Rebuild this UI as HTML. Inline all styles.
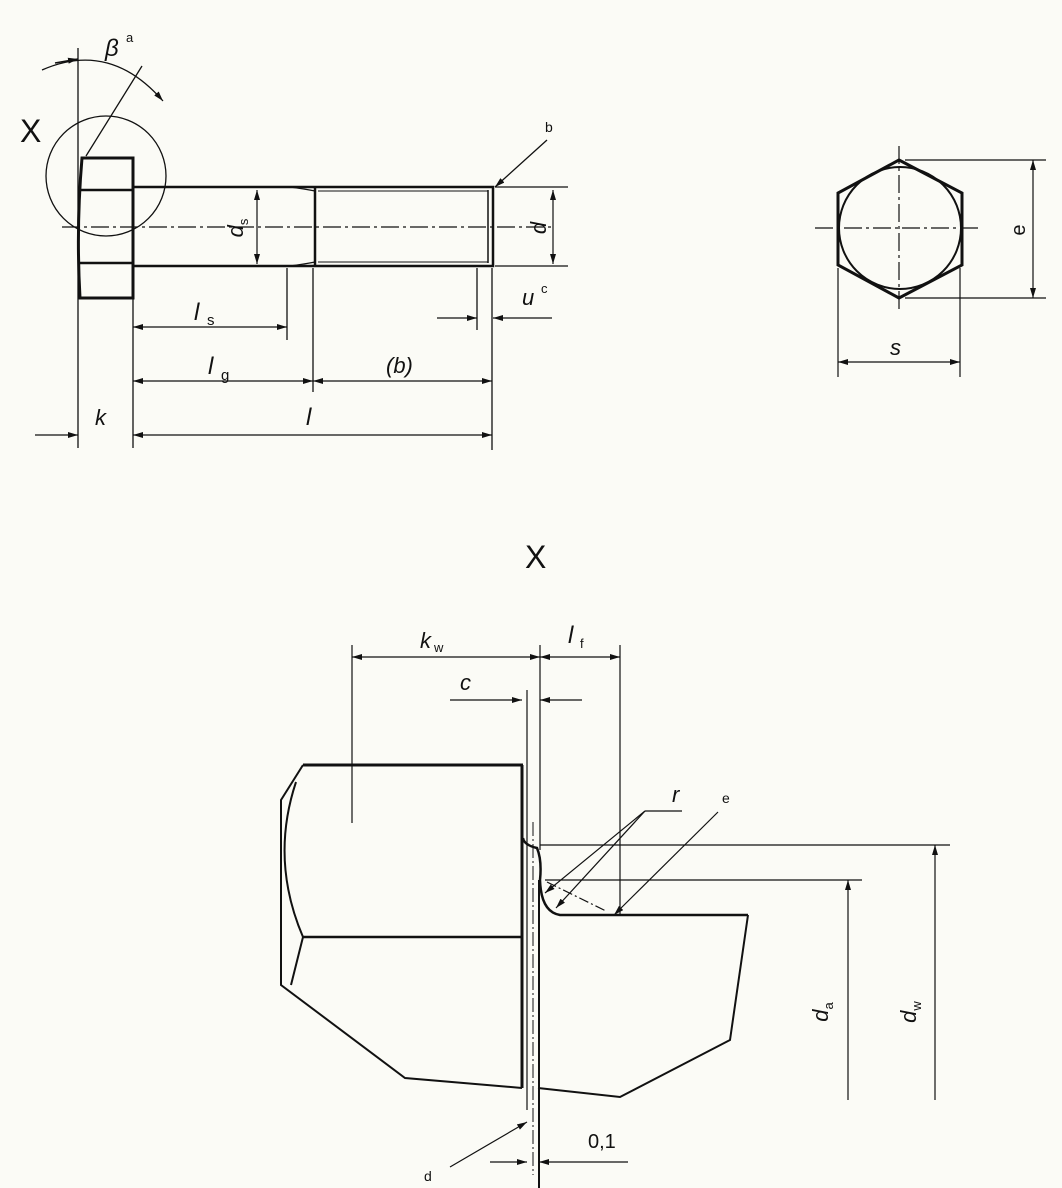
<!DOCTYPE html>
<html><head><meta charset="utf-8"><style>
html,body{margin:0;padding:0;background:#fbfbf6;}
svg{display:block}
text{font-family:"Liberation Sans",sans-serif;fill:#111}
.i{font-style:italic}
</style></head><body>
<svg width="1062" height="1188" viewBox="0 0 1062 1188" xmlns="http://www.w3.org/2000/svg">
<defs>
<marker id="a" viewBox="0 0 10 6" refX="10" refY="3" markerWidth="10" markerHeight="6" markerUnits="userSpaceOnUse" orient="auto-start-reverse"><path d="M0,0 L10,3 L0,6 z" fill="#111"/></marker>
</defs>
<g stroke="#111" fill="none" stroke-width="1.5">
<!-- TOP VIEW -->
<circle cx="106" cy="176" r="60" stroke-width="1.3"/>
<path d="M82,158 L133,158 L133,298 L80,298 Q76,228 82,158 Z" stroke-width="3"/>
<line x1="80" y1="190" x2="133" y2="190" stroke-width="2.5"/>
<line x1="80" y1="263" x2="133" y2="263" stroke-width="2.5"/>
<path d="M133,187 L493,187 L493,266 L133,266" stroke-width="2.5"/>
<line x1="315" y1="187" x2="315" y2="266" stroke-width="2.5"/>
<line x1="488" y1="190" x2="488" y2="263" stroke-width="1.5"/>
<line x1="318" y1="191" x2="488" y2="191" stroke-width="1"/>
<line x1="318" y1="262" x2="488" y2="262" stroke-width="1"/>
<path d="M290,187 Q305,189 315,191 M290,266 Q305,264 315,262" stroke-width="1.2"/>
<line x1="62" y1="227" x2="555" y2="227" stroke-dasharray="18,4,3,4" stroke-width="1.2"/>
<!-- beta -->
<line x1="78" y1="48" x2="78" y2="448" stroke-width="1.3"/>
<line x1="86" y1="156" x2="142" y2="66" stroke-width="1.3"/>
<path d="M42,70 Q110,40 163,101" stroke-width="1.3" marker-end="url(#a)"/>
<line x1="55" y1="63" x2="78" y2="59" marker-end="url(#a)"/>
<!-- dims -->
<line x1="133" y1="298" x2="133" y2="448" stroke-width="1.3"/>
<line x1="287" y1="268" x2="287" y2="340" stroke-width="1.3"/>
<line x1="313" y1="268" x2="313" y2="392" stroke-width="1.3"/>
<line x1="492" y1="268" x2="492" y2="450" stroke-width="1.3"/>
<line x1="477" y1="268" x2="477" y2="330" stroke-width="1.3"/>
<line x1="133" y1="327" x2="287" y2="327" stroke-width="1.2" marker-start="url(#a)" marker-end="url(#a)"/>
<line x1="133" y1="381" x2="313" y2="381" stroke-width="1.2" marker-start="url(#a)" marker-end="url(#a)"/>
<line x1="313" y1="381" x2="492" y2="381" stroke-width="1.2" marker-start="url(#a)" marker-end="url(#a)"/>
<line x1="133" y1="435" x2="492" y2="435" stroke-width="1.2" marker-start="url(#a)" marker-end="url(#a)"/>
<line x1="35" y1="435" x2="78" y2="435" stroke-width="1.2" marker-end="url(#a)"/>
<line x1="437" y1="318" x2="477" y2="318" stroke-width="1.2" marker-end="url(#a)"/>
<line x1="552" y1="318" x2="493" y2="318" stroke-width="1.2" marker-end="url(#a)"/>
<line x1="495" y1="187" x2="568" y2="187" stroke-width="1.2"/>
<line x1="495" y1="266" x2="568" y2="266" stroke-width="1.2"/>
<line x1="553" y1="190" x2="553" y2="264" stroke-width="1.2" marker-start="url(#a)" marker-end="url(#a)"/>
<line x1="257" y1="190" x2="257" y2="264" stroke-width="1.2" marker-start="url(#a)" marker-end="url(#a)"/>
<line x1="547" y1="140" x2="495" y2="187" stroke-width="1.3" marker-end="url(#a)"/>
<!-- RIGHT VIEW -->
<circle cx="900" cy="228" r="61" stroke-width="2"/>
<path d="M899,160 L962,193 L962,265 L899,298 L838,265 L838,193 Z" stroke-width="3"/>
<line x1="815" y1="228" x2="982" y2="228" stroke-dasharray="18,4,3,4" stroke-width="1.2"/>
<line x1="899" y1="146" x2="899" y2="312" stroke-dasharray="18,4,3,4" stroke-width="1.2"/>
<line x1="905" y1="160" x2="1046" y2="160" stroke-width="1.2"/>
<line x1="905" y1="298" x2="1046" y2="298" stroke-width="1.2"/>
<line x1="1033" y1="160" x2="1033" y2="298" stroke-width="1.2" marker-start="url(#a)" marker-end="url(#a)"/>
<line x1="838" y1="268" x2="838" y2="377" stroke-width="1.2"/>
<line x1="960" y1="268" x2="960" y2="377" stroke-width="1.2"/>
<line x1="838" y1="362" x2="960" y2="362" stroke-width="1.2" marker-start="url(#a)" marker-end="url(#a)"/>
<!-- DETAIL X -->
<path d="M303,765 L523,765" stroke-width="3"/>
<path d="M303,765 L281,800 L281,985 L405,1078 L522,1088" stroke-width="2"/>
<path d="M296,782 Q270,860 303,937" stroke-width="2"/>
<line x1="303" y1="937" x2="521" y2="937" stroke-width="2.5"/>
<line x1="303" y1="937" x2="291" y2="985" stroke-width="2"/>
<line x1="522" y1="765" x2="522" y2="1088" stroke-width="3"/>
<line x1="527" y1="690" x2="527" y2="1110" stroke-width="1.2"/>
<line x1="533" y1="822" x2="533" y2="1175" stroke-width="1" stroke-dasharray="14,3,2,3"/>
<path d="M523,838 Q524,845 537,848 Q542,860 540,880 Q541,912 560,915 L748,915" stroke-width="2.5"/>
<line x1="539" y1="880" x2="539" y2="1188" stroke-width="2"/>
<path d="M748,915 L730,1040 L620,1097 L538,1088" stroke-width="2"/>
<line x1="540" y1="845" x2="950" y2="845" stroke-width="1.3"/>
<line x1="545" y1="880" x2="862" y2="880" stroke-width="1.3"/>
<line x1="848" y1="1100" x2="848" y2="880" stroke-width="1.2" marker-end="url(#a)"/>
<line x1="935" y1="1100" x2="935" y2="845" stroke-width="1.2" marker-end="url(#a)"/>
<line x1="352" y1="645" x2="352" y2="823" stroke-width="1.2"/>
<line x1="540" y1="645" x2="540" y2="850" stroke-width="1.2"/>
<line x1="620" y1="645" x2="620" y2="915" stroke-width="1.2"/>
<line x1="352" y1="657" x2="540" y2="657" stroke-width="1.2" marker-start="url(#a)" marker-end="url(#a)"/>
<line x1="540" y1="657" x2="620" y2="657" stroke-width="1.2" marker-start="url(#a)" marker-end="url(#a)"/>
<line x1="450" y1="700" x2="522" y2="700" stroke-width="1.2" marker-end="url(#a)"/>
<line x1="582" y1="700" x2="540" y2="700" stroke-width="1.2" marker-end="url(#a)"/>
<line x1="645" y1="811" x2="682" y2="811" stroke-width="1.2"/>
<line x1="645" y1="811" x2="545" y2="893" stroke-width="1.2" marker-end="url(#a)"/>
<line x1="645" y1="811" x2="556" y2="908" stroke-width="1.2" marker-end="url(#a)"/>
<line x1="718" y1="812" x2="614" y2="915" stroke-width="1.2" marker-end="url(#a)"/>
<line x1="547" y1="882" x2="606" y2="911" stroke-width="1.2" stroke-dasharray="10,3,2,3"/>
<line x1="450" y1="1167" x2="527" y2="1122" stroke-width="1.2" marker-end="url(#a)"/>
<line x1="490" y1="1162" x2="527" y2="1162" stroke-width="1.2" marker-end="url(#a)"/>
<line x1="628" y1="1162" x2="539" y2="1162" stroke-width="1.2" marker-end="url(#a)"/>
</g>
<g>
<text x="20" y="142" font-size="32">X</text>
<text x="525" y="568" font-size="32">X</text>
<text class="i" x="105" y="56" font-size="24">β</text>
<text x="126" y="42" font-size="13">a</text>
<text x="545" y="132" font-size="14">b</text>
<text class="i" x="194" y="320" font-size="24">l</text><text x="207" y="325" font-size="15">s</text>
<text class="i" x="208" y="374" font-size="24">l</text><text x="221" y="380" font-size="15">g</text>
<text class="i" x="386" y="373" font-size="22">(b)</text>
<text class="i" x="95" y="425" font-size="22">k</text>
<text class="i" x="306" y="425" font-size="24">l</text>
<text class="i" x="522" y="305" font-size="22">u</text><text x="541" y="293" font-size="13">c</text>
<text class="i" x="890" y="355" font-size="22">s</text>
<text class="i" transform="translate(546,228) rotate(-90)" font-size="22" text-anchor="middle">d</text>
<text class="i" transform="translate(243,228) rotate(-90)" font-size="22" text-anchor="middle">d<tspan font-size="13" dy="5" style="font-style:normal">s</tspan></text>
<text transform="translate(1025,230) rotate(-90)" font-size="20" text-anchor="middle">e</text>
<text class="i" x="420" y="648" font-size="22">k</text><text x="434" y="652" font-size="13">w</text>
<text class="i" x="568" y="643" font-size="24">l</text><text x="580" y="648" font-size="13">f</text>
<text class="i" x="460" y="690" font-size="22">c</text>
<text class="i" x="672" y="802" font-size="22">r</text>
<text x="722" y="803" font-size="14">e</text>
<text x="424" y="1181" font-size="14">d</text>
<text x="588" y="1148" font-size="20">0,1</text>
<text class="i" transform="translate(828,1012) rotate(-90)" font-size="22" text-anchor="middle">d<tspan font-size="13" dy="5" style="font-style:normal">a</tspan></text>
<text class="i" transform="translate(916,1012) rotate(-90)" font-size="22" text-anchor="middle">d<tspan font-size="13" dy="5" style="font-style:normal">w</tspan></text>
</g>
</svg>
</body></html>
